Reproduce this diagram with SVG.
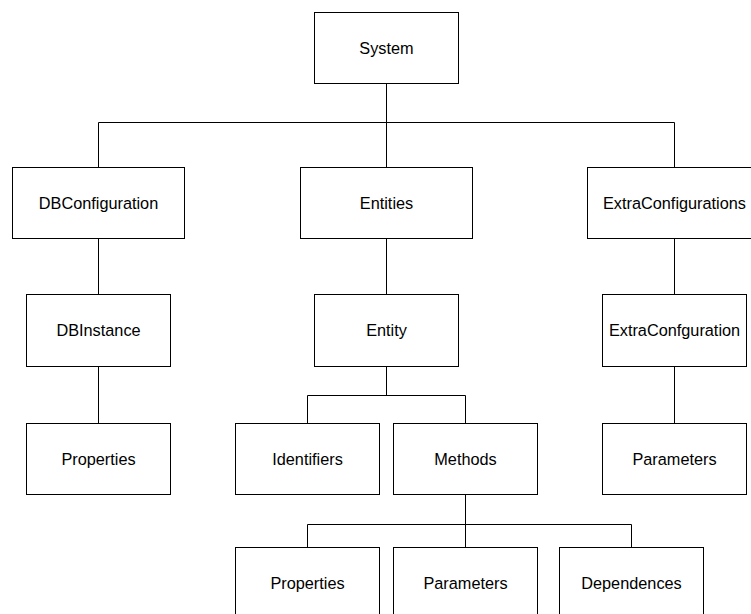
<svg xmlns="http://www.w3.org/2000/svg" width="751" height="614" viewBox="0 0 751 614">
<style>
.box{fill:#fff;stroke:#000;stroke-width:1}
.lbl{font-family:"Liberation Sans",Arial,sans-serif;font-size:16.3px;fill:#000;text-anchor:middle}
.con{fill:none;stroke:#000;stroke-width:1}
</style>
<rect width="751" height="614" fill="#fff"/>
<g id="connectors">
<path class="con" d="M386.5 83.5V122.5M98.5 122.5H674.5M98.5 122.5V167.5M386.5 122.5V167.5M674.5 122.5V167.5"/>
<path class="con" d="M98.5 238.5V294.5M98.5 366.5V423.5"/>
<path class="con" d="M386.5 238.5V294.5M386.5 366.5V395.5M307.5 395.5H465.5M307.5 395.5V423.5M465.5 395.5V423.5"/>
<path class="con" d="M465.5 494.5V524.5M307.5 524.5H631.5M307.5 524.5V547.5M465.5 524.5V547.5M631.5 524.5V547.5"/>
<path class="con" d="M674.5 238.5V294.5M674.5 366.5V423.5"/>
</g>
<g id="system"><rect class="box" x="314.5" y="12.5" width="144" height="71"/><text class="lbl" x="386.5" y="54">System</text></g>
<g id="dbconfiguration"><rect class="box" x="12.5" y="167.5" width="172" height="71"/><text class="lbl" x="98.5" y="209">DBConfiguration</text></g>
<g id="entities"><rect class="box" x="300.5" y="167.5" width="172" height="71"/><text class="lbl" x="386.5" y="209">Entities</text></g>
<g id="extraconfigurations"><rect class="box" x="587.5" y="167.5" width="174" height="71"/><text class="lbl" x="674.5" y="209">ExtraConfigurations</text></g>
<g id="dbinstance"><rect class="box" x="26.5" y="294.5" width="144" height="72"/><text class="lbl" x="98.5" y="336">DBInstance</text></g>
<g id="entity"><rect class="box" x="314.5" y="294.5" width="144" height="72"/><text class="lbl" x="386.5" y="336">Entity</text></g>
<g id="extraconfguration"><rect class="box" x="602.5" y="294.5" width="144" height="72"/><text class="lbl" x="674.5" y="336">ExtraConfguration</text></g>
<g id="properties1"><rect class="box" x="26.5" y="423.5" width="144" height="71"/><text class="lbl" x="98.5" y="465">Properties</text></g>
<g id="identifiers"><rect class="box" x="235.5" y="423.5" width="144" height="71"/><text class="lbl" x="307.5" y="465">Identifiers</text></g>
<g id="methods"><rect class="box" x="393.5" y="423.5" width="144" height="71"/><text class="lbl" x="465.5" y="465">Methods</text></g>
<g id="parameters1"><rect class="box" x="602.5" y="423.5" width="144" height="71"/><text class="lbl" x="674.5" y="465">Parameters</text></g>
<g id="properties2"><rect class="box" x="235.5" y="547.5" width="144" height="71"/><text class="lbl" x="307.5" y="589">Properties</text></g>
<g id="parameters2"><rect class="box" x="393.5" y="547.5" width="144" height="71"/><text class="lbl" x="465.5" y="589">Parameters</text></g>
<g id="dependences"><rect class="box" x="559.5" y="547.5" width="144" height="71"/><text class="lbl" x="631.5" y="589">Dependences</text></g>
</svg>
